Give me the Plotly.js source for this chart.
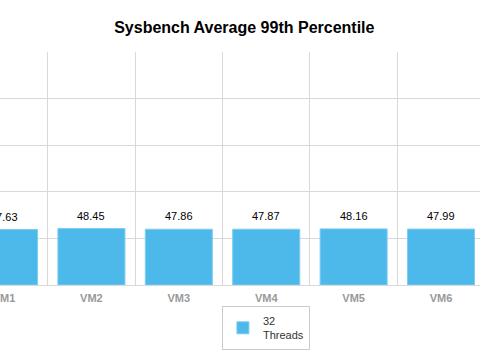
<!DOCTYPE html>
<html>
<head>
<meta charset="utf-8">
<script src="https://cdn.plot.ly/plotly-3.0.1.min.js"></script>
<style>html,body{margin:0;padding:0;background:#fff;}#chart{width:480px;height:351px;}</style>
</head>
<body>
<div id="chart"></div>
<script>
var categories = ["VM1", "VM2", "VM3", "VM4", "VM5", "VM6"];
var values = [47.63, 48.45, 47.86, 47.87, 48.16, 47.99];
var seriesName = "32<br>Threads";
var labels = values.map(function (v) { return v.toFixed(2); });

var trace = {
  type: "bar",
  x: categories,
  y: values,
  name: seriesName,
  marker: { color: "#4db9ea", line: { color: "#7ccdf1", width: 1 } },
  hoverinfo: "none",
  showlegend: true
};

var annotations = categories.map(function (c, i) {
  return {
    x: c, y: values[i], xref: "x", yref: "y",
    text: labels[i], showarrow: false, yanchor: "bottom", yshift: 5,
    font: { family: "Liberation Sans, Arial, sans-serif", size: 11, color: "#000" }
  };
});

var layout = {
  width: 480, height: 351,
  margin: { l: 0, r: 0, t: 0, b: 0 },
  paper_bgcolor: "#fff", plot_bgcolor: "#fff",
  title: {
    text: "<b>Sysbench Average 99th Percentile</b>",
    x: 0.509, xanchor: "center", y: 0.923, yanchor: "middle",
    font: { family: "Liberation Sans, Arial, sans-serif", size: 16, color: "#000" }
  },
  bargap: 0.233,
  xaxis: {
    type: "category",
    range: [-0.046, 5.446],
    tickson: "boundaries",
    showgrid: true, gridcolor: "#d9d9d9", gridwidth: 1,
    showline: true, linecolor: "#d9d9d9", linewidth: 1,
    ticks: "", fixedrange: true, ticklabelstandoff: 3,
    tickfont: { family: "Liberation Sans, Arial, sans-serif", size: 11, color: "#999", weight: "bold" }
  },
  yaxis: {
    domain: [66 / 351, 299 / 351],
    range: [0, 200], dtick: 40,
    showgrid: true, gridcolor: "#d9d9d9", gridwidth: 1,
    zeroline: false, showticklabels: false, ticks: "", fixedrange: true
  },
  showlegend: true,
  legend: {
    x: 0.554, xanchor: "center", y: 23 / 351, yanchor: "middle",
    bordercolor: "#cccccc", borderwidth: 1, bgcolor: "#fff",
    font: { family: "Liberation Sans, Arial, sans-serif", size: 11, color: "#333" },
    itemwidth: 30
  },
  annotations: annotations
};

Plotly.newPlot("chart", [trace], layout, { displayModeBar: false, staticPlot: true });
</script>
</body>
</html>
